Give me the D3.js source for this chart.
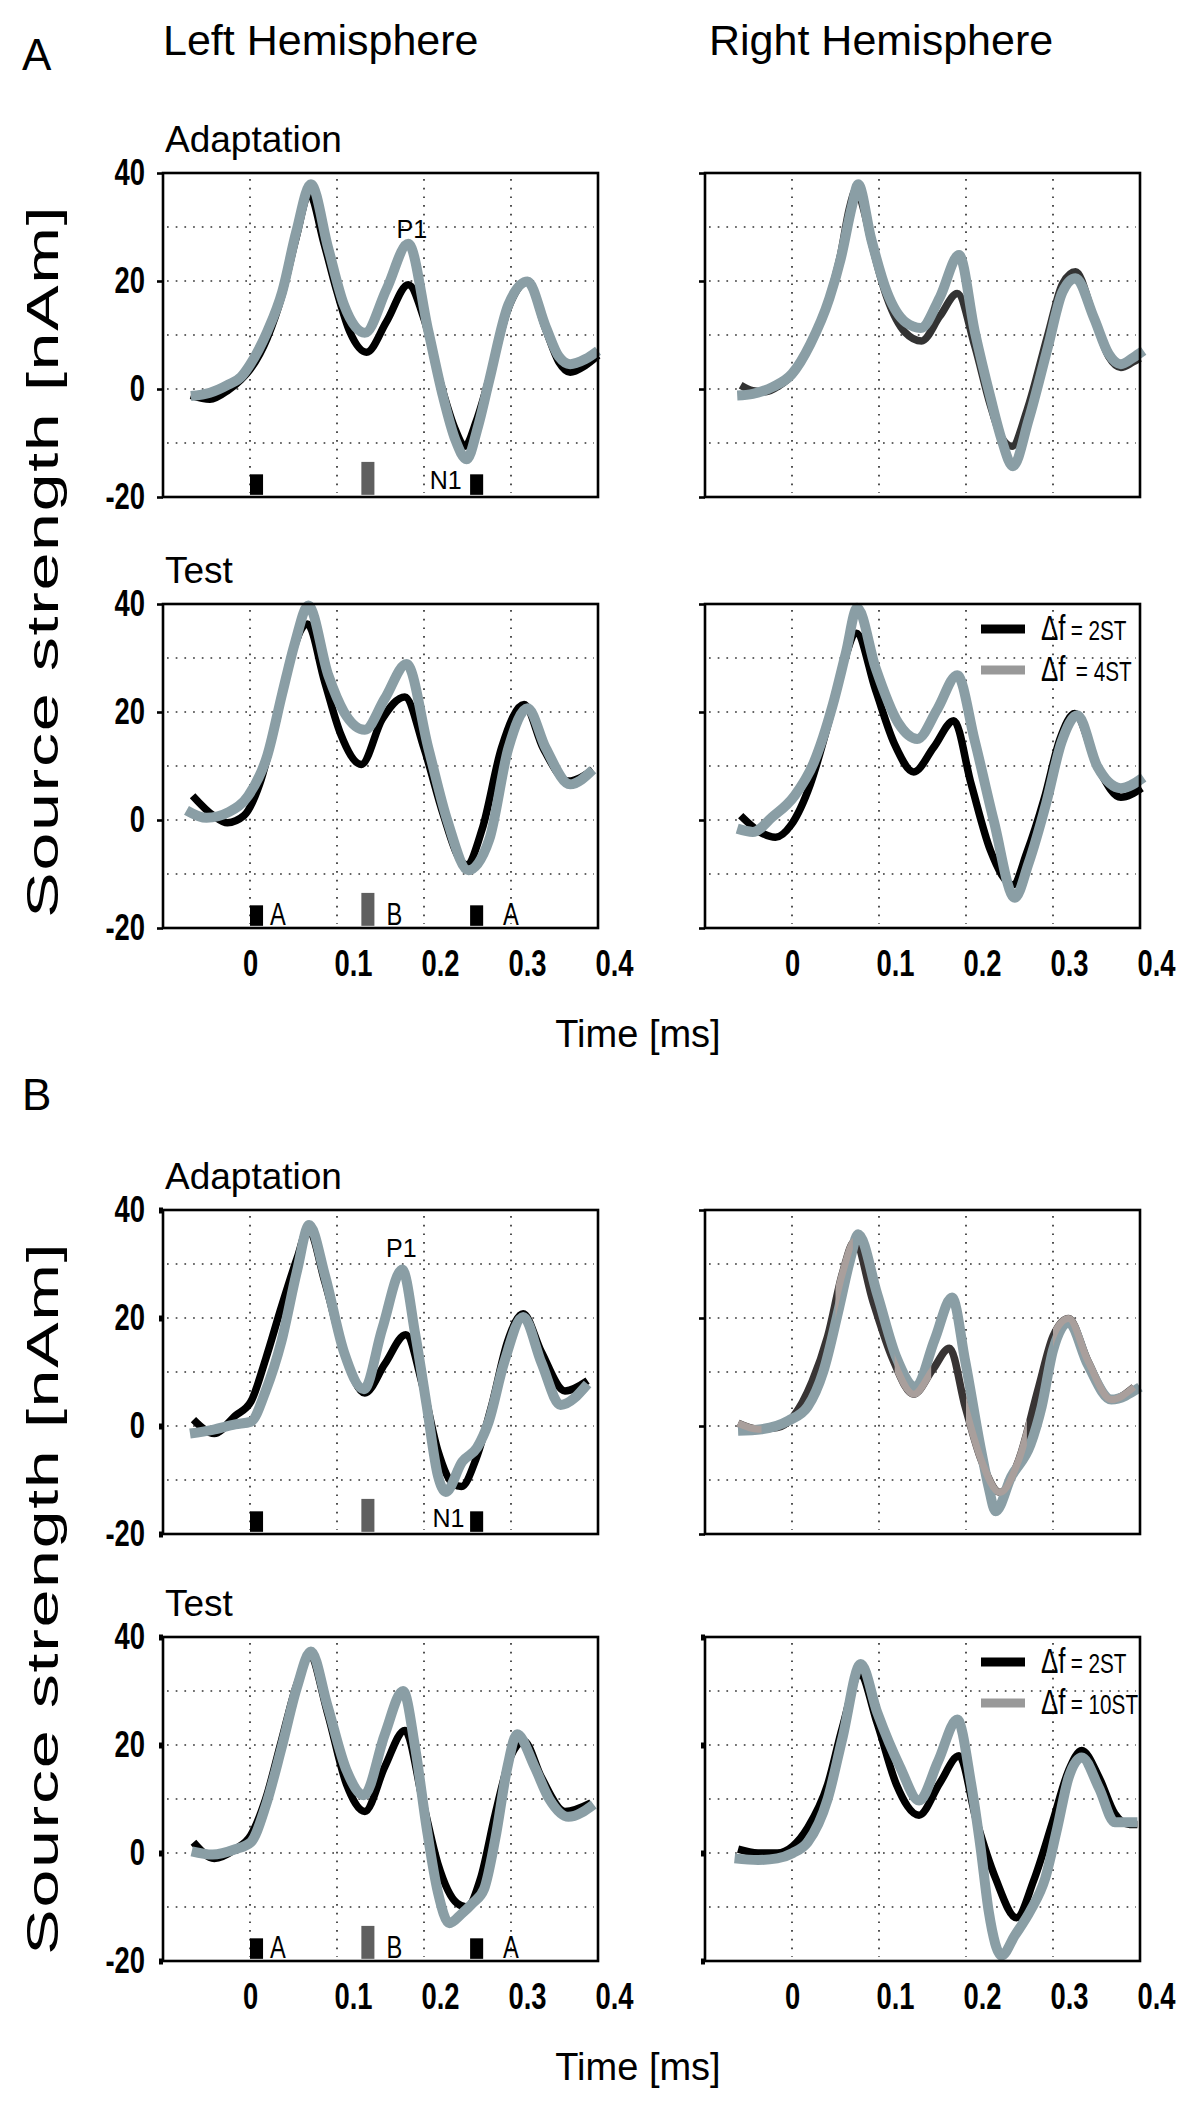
<!DOCTYPE html>
<html>
<head>
<meta charset="UTF-8">
<title>Source strength</title>
<script src="https://d3js.org/d3.v7.min.js"></script>
<style>
  body { margin: 0; background: #fff; }
  svg { display: block; }
</style>
</head>
<body>
<svg></svg>
<script>
  // ---- data (time in s, source strength in nAm) ----
  let timeTicks = [0, 0.1, 0.2, 0.3, 0.4];
  let valueTicks = [-20, 0, 20, 40];
  let gridTimes = [0, 0.1, 0.2, 0.3];
  let gridValues = [-10, 0, 10, 20, 30];

  // stimulus blocks A B A
  let stimNames = ["A", "B", "A"];
  let stimOnsets = [0, 0.128, 0.253];
  let stimTops = [-15.8, -13.5, -15.8];
  let stimDuration = 0.015;
  let stimLabelTimes = [0.032, 0.166, 0.30];

  let aPeakLabels = [["P1", 0.186, 28], ["N1", 0.225, -18.5]];
  let bPeakLabels = [["P1", 0.174, 31.3], ["N1", 0.228, -18.7]];

  let aLegend = ["2ST", "4ST"];
  let bLegend = ["2ST", "10ST"];

  // A, left hemisphere, adaptation
  let aLeftAdapt2ST = [[-0.068,-1.2],[-0.046,-1.9],[-0.025,-0.2],[-0.01,1.8],[0,3.6],[0.02,9.5],[0.037,17.5],[0.053,28],[0.068,36.2],[0.085,27],[0.1,18],[0.115,10.5],[0.134,6.8],[0.157,12.5],[0.182,19.3],[0.2,13],[0.22,0.5],[0.236,-7.5],[0.247,-10.6],[0.26,-6],[0.275,2],[0.297,15],[0.319,19.8],[0.34,11],[0.355,5],[0.368,3.1],[0.385,4.3],[0.4,6.2]];
  let aLeftAdapt4ST = [[-0.068,-1.3],[-0.046,-0.7],[-0.025,0.8],[-0.01,2.3],[0,4.5],[0.02,10.7],[0.037,18],[0.053,29],[0.07,37.9],[0.09,26],[0.108,15.6],[0.132,10.4],[0.157,18.5],[0.182,26.9],[0.205,10.7],[0.222,-1.5],[0.236,-9.4],[0.249,-13],[0.262,-7],[0.275,1.6],[0.297,15.6],[0.319,19.9],[0.34,11.5],[0.355,6],[0.368,4.6],[0.385,5.5],[0.4,7.1]];

  // A, right hemisphere, adaptation
  let aRightAdapt2ST = [[-0.059,0.7],[-0.045,-0.3],[-0.03,-0.5],[-0.015,0.6],[0,2.6],[0.021,8.3],[0.043,17],[0.056,25],[0.066,33.5],[0.074,37],[0.082,33.5],[0.09,28],[0.109,17],[0.13,10.5],[0.149,8.9],[0.17,13.5],[0.19,17.7],[0.21,8],[0.228,-3],[0.241,-9],[0.253,-10.6],[0.27,-4],[0.294,10],[0.311,19.5],[0.326,21.7],[0.347,13.2],[0.364,6],[0.378,4],[0.392,5],[0.4,5.7]];
  let aRightAdapt4ST = [[-0.063,-1.2],[-0.045,-0.9],[-0.022,0.4],[0,2.8],[0.021,8.3],[0.043,16.8],[0.056,24.1],[0.069,33.9],[0.076,37.9],[0.091,27.8],[0.109,18],[0.131,12.3],[0.148,11.3],[0.17,17],[0.192,24.8],[0.21,10.7],[0.228,-1.5],[0.241,-9.4],[0.254,-14.3],[0.272,-5.7],[0.294,7.7],[0.311,18],[0.326,20.5],[0.347,13.2],[0.364,6.5],[0.378,4.6],[0.392,5.8],[0.404,7.1]];

  // A, left hemisphere, test
  let aLeftTest2ST = [[-0.066,4.5],[-0.042,0.8],[-0.026,-0.5],[-0.007,0.8],[0.011,6.6],[0.029,17.4],[0.046,29.5],[0.066,36.3],[0.086,25.5],[0.104,16],[0.128,10.3],[0.152,18.7],[0.178,22.8],[0.2,13.3],[0.222,1.1],[0.24,-7],[0.249,-8.3],[0.267,-1.6],[0.289,13.3],[0.315,21.4],[0.337,13.3],[0.366,7.2],[0.394,9.3]];
  let aLeftTest4ST = [[-0.073,1.8],[-0.05,0.4],[-0.024,1.5],[-0.002,4.5],[0.02,12],[0.037,23.4],[0.052,33],[0.067,39.7],[0.09,26.8],[0.108,20],[0.132,16.7],[0.155,22.5],[0.18,28.9],[0.205,13.3],[0.227,-0.2],[0.251,-9.3],[0.275,-3.6],[0.297,13.3],[0.319,20.7],[0.34,13.3],[0.368,6.6],[0.394,9.3]];

  // A, right hemisphere, test
  let aRightTest2ST = [[-0.059,0.8],[-0.037,-2.2],[-0.019,-3.2],[-0.001,-0.9],[0.021,6.6],[0.043,18.7],[0.06,29.5],[0.074,34.6],[0.096,24.1],[0.118,14],[0.14,8.9],[0.163,13.5],[0.186,18.4],[0.206,6.6],[0.228,-5.6],[0.254,-12],[0.27,-6],[0.29,4],[0.308,15],[0.325,19.7],[0.351,9.9],[0.378,4.2],[0.402,5.9]];
  let aRightTest4ST = [[-0.063,-1.6],[-0.045,-2.2],[-0.023,0.5],[0.003,4.5],[0.025,10.6],[0.047,21.4],[0.062,31],[0.075,39.3],[0.096,28.2],[0.122,18],[0.144,15],[0.167,20.5],[0.19,26.8],[0.21,14.7],[0.232,-0.2],[0.256,-14.4],[0.272,-8],[0.292,3],[0.31,14.5],[0.328,19.4],[0.351,9.9],[0.378,5.9],[0.404,7.9]];

  // B, left hemisphere, adaptation
  let bLeftAdapt2ST = [[-0.065,1.2],[-0.041,-1.4],[-0.017,1.9],[0.001,4.5],[0.018,12.4],[0.036,22],[0.054,31],[0.067,36.5],[0.086,26.7],[0.108,13.7],[0.132,6.1],[0.155,11.5],[0.179,16.9],[0.199,7.1],[0.216,-4.6],[0.234,-10.8],[0.243,-11.2],[0.26,-6],[0.278,3.9],[0.296,15.6],[0.314,20.8],[0.335,13.7],[0.362,6.5],[0.388,8.4]];
  let bLeftAdapt10ST = [[-0.069,-1.4],[-0.043,-0.7],[-0.017,0.3],[0.001,0.8],[0.018,6.5],[0.036,15.6],[0.054,28.7],[0.068,37.2],[0.086,28],[0.108,13.7],[0.131,6.8],[0.152,18],[0.175,29],[0.19,16.9],[0.203,3.9],[0.216,-9.2],[0.225,-12.2],[0.244,-6.6],[0.261,-4],[0.274,0.6],[0.292,11.7],[0.314,20.2],[0.335,11.7],[0.357,3.9],[0.388,7.8]];

  // B, right hemisphere, adaptation
  let bRightAdapt2ST = [[-0.062,0.5],[-0.039,-0.6],[-0.017,-0.3],[0.001,1.7],[0.023,8.2],[0.041,16.6],[0.058,28.3],[0.072,34.2],[0.093,23.1],[0.115,12.7],[0.14,5.9],[0.162,10.5],[0.181,14.4],[0.199,3.6],[0.217,-6.1],[0.239,-12.3],[0.261,-6.1],[0.283,6.9],[0.3,16.6],[0.318,19.9],[0.34,12.1],[0.367,4.9],[0.393,7.2]];
  let bRightAdapt10ST = [[-0.062,-0.9],[-0.035,-0.6],[-0.004,1],[0.018,3.6],[0.036,10.1],[0.054,21.8],[0.067,30.9],[0.076,35.5],[0.098,24.4],[0.12,12.7],[0.142,7.2],[0.164,16],[0.184,23.8],[0.199,12.1],[0.217,-4.2],[0.226,-11.3],[0.234,-15.8],[0.252,-9.4],[0.274,-3.5],[0.287,3.6],[0.3,14],[0.318,19.2],[0.34,11.4],[0.367,4.9],[0.4,7.2]];
  // time spans where the two traces overlap and print in a tan blend
  let bRightAdaptBlend = [[-0.07, -0.035], [0.05, 0.07], [0.118, 0.16], [0.2, 0.27], [0.3, 0.41]];

  // B, left hemisphere, test
  let bLeftTest2ST = [[-0.065,2],[-0.041,-1],[-0.017,0.7],[0.001,3.3],[0.018,10],[0.036,20.7],[0.054,31.3],[0.069,36.3],[0.089,26],[0.111,12.7],[0.132,7.7],[0.155,16],[0.178,22.7],[0.199,9.3],[0.216,-2],[0.238,-9.3],[0.249,-10],[0.265,-4.7],[0.282,7.3],[0.3,18],[0.315,20.7],[0.335,14],[0.362,7.7],[0.392,9.3]];
  let bLeftTest10ST = [[-0.067,0.3],[-0.043,-0.3],[-0.017,0.7],[0.001,2],[0.018,8.7],[0.036,19.3],[0.054,30.7],[0.07,37.3],[0.089,27.3],[0.111,15.3],[0.131,10.7],[0.155,22],[0.176,30],[0.19,19.3],[0.203,4.7],[0.216,-7.3],[0.229,-13],[0.243,-11.3],[0.256,-9.3],[0.269,-6.7],[0.282,2.7],[0.296,16],[0.307,22],[0.327,16],[0.344,10],[0.366,6.7],[0.395,9]];

  // B, right hemisphere, test
  let bRightTest2ST = [[-0.062,0.7],[-0.039,0],[-0.017,0],[0.001,1.3],[0.018,4.7],[0.041,12.7],[0.058,23.3],[0.078,33],[0.098,24],[0.12,12.7],[0.146,7],[0.17,13],[0.192,18],[0.212,6],[0.234,-4.7],[0.258,-12],[0.278,-5],[0.3,6],[0.318,15.3],[0.333,19],[0.353,14],[0.371,7.3],[0.388,5.3],[0.397,5.3]];
  let bRightTest10ST = [[-0.066,-1],[-0.039,-1.3],[-0.017,-1],[0.001,0],[0.018,2],[0.041,10],[0.058,21.3],[0.079,35],[0.098,26],[0.124,16],[0.146,9.7],[0.168,17],[0.19,24.7],[0.206,12.7],[0.217,0.7],[0.226,-10.7],[0.241,-19],[0.256,-15.3],[0.274,-10.7],[0.291,-4.7],[0.305,4.7],[0.318,14],[0.333,17.7],[0.353,12],[0.371,5.7],[0.397,5.7]];

  // ---- layout ----
  let width = 1200,
    height = 2103;

  let svg = d3.select("svg")
    .attr("width", width)
    .attr("height", height);

  let pw = 435, ph = 324;
  let colLeft = [163, 705];

  let x = d3.scaleLinear().domain([-0.1, 0.4]).range([0, pw]);
  let y = d3.scaleLinear().domain([-20, 40]).range([ph, 0]);

  let line = d3.line()
    .x(d => x(d[0]))
    .y(d => y(d[1]))
    .curve(d3.curveMonotoneX);

  let sans = "'Liberation Sans', Arial, Helvetica, sans-serif";
  // no narrow face installed: squeeze Liberation Sans horizontally instead
  let squeeze = 0.74;
  let blueGray = "#8a9ea5";

  let sections = [
    {name: "A", top: 173, testTop: 604, peaks: aPeakLabels, legend: aLegend,
      panels: [
        {col: 0, test: false, dark: aLeftAdapt2ST, light: aLeftAdapt4ST, darkColor: "#000"},
        {col: 1, test: false, dark: aRightAdapt2ST, light: aRightAdapt4ST, darkColor: "#333"},
        {col: 0, test: true, dark: aLeftTest2ST, light: aLeftTest4ST, darkColor: "#000"},
        {col: 1, test: true, dark: aRightTest2ST, light: aRightTest4ST, darkColor: "#000"}
      ]},
    {name: "B", top: 1210, testTop: 1637, peaks: bPeakLabels, legend: bLegend,
      panels: [
        {col: 0, test: false, dark: bLeftAdapt2ST, light: bLeftAdapt10ST, darkColor: "#000", boxTicks: true},
        {col: 1, test: false, dark: bRightAdapt2ST, light: bRightAdapt10ST, darkColor: "#383434", blend: bRightAdaptBlend},
        {col: 0, test: true, dark: bLeftTest2ST, light: bLeftTest10ST, darkColor: "#000", boxTicks: true},
        {col: 1, test: true, dark: bRightTest2ST, light: bRightTest10ST, darkColor: "#000", boxTicks: true}
      ]}
  ];

  // hemisphere headers
  svg.append("text").attr("x", 163).attr("y", 55)
    .style("font-family", sans).style("font-size", "43px")
    .text("Left Hemisphere");
  svg.append("text").attr("x", 709).attr("y", 55)
    .style("font-family", sans).style("font-size", "43px")
    .text("Right Hemisphere");

  sections.forEach((sec, si) => {
    // section letter
    svg.append("text")
      .attr("x", 22)
      .attr("y", sec.name == "A" ? 70 : 1110)
      .style("font-family", sans).style("font-size", "44px")
      .text(sec.name);

    // y axis title (wide, stretched lettering as in the figure)
    svg.append("text")
      .attr("transform", "translate(58," + (sec.top + 389) + ") rotate(-90) scale(1.55,1)")
      .attr("text-anchor", "middle")
      .attr("textLength", 459)
      .attr("lengthAdjust", "spacing")
      .style("font-family", sans).style("font-size", "44px")
      .text("Source strength [nAm]");

    // x axis title
    svg.append("text")
      .attr("x", 638)
      .attr("y", sec.testTop + ph + 119)
      .attr("text-anchor", "middle")
      .style("font-family", sans).style("font-size", "38px")
      .text("Time [ms]");

    sec.panels.forEach((p, pi) => {
      let top = p.test ? sec.testTop : sec.top;
      let g = svg.append("g")
        .attr("transform", "translate(" + colLeft[p.col] + "," + top + ")");

      // dotted grid
      g.append("g").selectAll("line")
        .data(gridValues)
        .enter()
        .append("line")
        .attr("x1", 4).attr("x2", pw - 4)
        .attr("y1", d => y(d)).attr("y2", d => y(d))
        .attr("stroke", "#333").attr("stroke-width", 1.7)
        .attr("stroke-dasharray", "1.7 7");
      g.append("g").selectAll("line")
        .data(gridTimes)
        .enter()
        .append("line")
        .attr("x1", d => x(d)).attr("x2", d => x(d))
        .attr("y1", 6).attr("y2", ph - 4)
        .attr("stroke", "#333").attr("stroke-width", 1.7)
        .attr("stroke-dasharray", "1.7 7");

      // stimulus markers, left hemisphere only
      if (p.col == 0) {
        g.append("g").selectAll("rect")
          .data(stimOnsets)
          .enter()
          .append("rect")
          .attr("x", d => x(d))
          .attr("width", x(stimDuration) - x(0))
          .attr("y", (d, i) => y(stimTops[i]))
          .attr("height", (d, i) => y(-19.6) - y(stimTops[i]))
          .attr("fill", (d, i) => stimNames[i] == "B" ? "#5f5f5f" : "#000");

        if (p.test) {
          g.append("g").selectAll("text")
            .data(stimLabelTimes)
            .enter()
            .append("text")
            .attr("transform", d => "translate(" + x(d) + "," + y(-19.4) + ") scale(" + squeeze + ",1)")
            .attr("text-anchor", "middle")
            .style("font-family", sans).style("font-size", "32px")
            .text((d, i) => stimNames[i]);
        } else {
          g.append("g").selectAll("text")
            .data(sec.peaks)
            .enter()
            .append("text")
            .attr("x", d => x(d[1]))
            .attr("y", d => y(d[2]))
            .attr("text-anchor", "middle")
            .style("font-family", sans).style("font-size", "25px")
            .text(d => d[0]);
        }
      }

      // source waveforms: 2ST dark under, larger step light on top
      g.append("path")
        .datum(p.dark)
        .attr("fill", "none")
        .attr("stroke", p.darkColor)
        .attr("stroke-width", 7.5)
        .attr("stroke-linejoin", "round")
        .attr("d", line);
      g.append("path")
        .datum(p.light)
        .attr("fill", "none")
        .attr("stroke", blueGray)
        .attr("stroke-width", 10)
        .attr("stroke-linejoin", "round")
        .attr("d", line);

      // tan blend where the two traces coincide
      if (p.blend) {
        let clipId = "blend" + si + pi;
        g.append("clipPath").attr("id", clipId)
          .selectAll("rect")
          .data(p.blend)
          .enter()
          .append("rect")
          .attr("x", d => x(d[0]))
          .attr("width", d => x(d[1]) - x(d[0]))
          .attr("y", 0).attr("height", ph);
        g.append("path")
          .datum(p.dark)
          .attr("clip-path", "url(#" + clipId + ")")
          .attr("fill", "none")
          .attr("stroke", "#a99f9c")
          .attr("stroke-width", 7)
          .attr("d", line);
      }

      // frame
      g.append("rect")
        .attr("width", pw).attr("height", ph)
        .attr("fill", "none")
        .attr("stroke", "#000").attr("stroke-width", 2.6);

      // y axis
      let yAxis = g.append("g")
        .call(d3.axisLeft(y).tickValues(valueTicks).tickSize(p.boxTicks ? 4 : 6)
          .tickFormat(d => p.col == 0 ? (d < 0 ? "-" + Math.abs(d) : d) : ""));
      yAxis.select(".domain").remove();
      yAxis.selectAll(".tick line")
        .attr("stroke", "#000")
        .attr("stroke-width", p.boxTicks ? 6 : 2.6);
      yAxis.selectAll(".tick text")
        .attr("x", -18 / squeeze)
        .attr("transform", "scale(" + squeeze + ",1)")
        .style("font-family", sans).style("font-size", "37px").style("font-weight", "bold");

      // x axis labels under test panels
      if (p.test) {
        let xAxis = g.append("g")
          .attr("transform", "translate(0," + ph + ")")
          .call(d3.axisBottom(x).tickValues(timeTicks).tickSize(0)
            .tickFormat(d => d == 0 ? "0" : d.toFixed(1)));
        xAxis.select(".domain").remove();
        xAxis.selectAll(".tick text")
          .attr("y", 48)
          .attr("dy", 0)
          .attr("x", d => (d == 0 ? 0 : 16) / squeeze)
          .attr("transform", "scale(" + squeeze + ",1)")
          .style("font-family", sans).style("font-size", "37px").style("font-weight", "bold");
      }

      // row title
      if (p.col == 0) {
        g.append("text")
          .attr("x", 2)
          .attr("y", -21)
          .style("font-family", sans).style("font-size", "37px")
          .text(p.test ? "Test" : "Adaptation");
      }

      // legend
      if (p.test && p.col == 1) {
        let lg = g.append("g").attr("transform", "translate(276,0)");
        let rows = lg.selectAll("g")
          .data(sec.legend)
          .enter()
          .append("g")
          .attr("transform", (d, i) => "translate(0," + (i == 0 ? 25 : 66) + ")");
        rows.append("line")
          .attr("x1", 0).attr("x2", 44)
          .attr("stroke", (d, i) => i == 0 ? "#000" : "#999")
          .attr("stroke-width", 9);
        let t = rows.append("text")
          .attr("transform", "translate(60,11) scale(" + squeeze + ",1)")
          .style("font-family", sans);
        t.append("tspan").style("font-size", "35px").text("\u0394f");
        t.append("tspan").style("font-size", "28px").attr("dx", (d, i) => sec.name == "A" && i == 1 ? 14 : 7)
          .text(d => "= " + d);
      }
    });
  });
</script>
</body>
</html>
